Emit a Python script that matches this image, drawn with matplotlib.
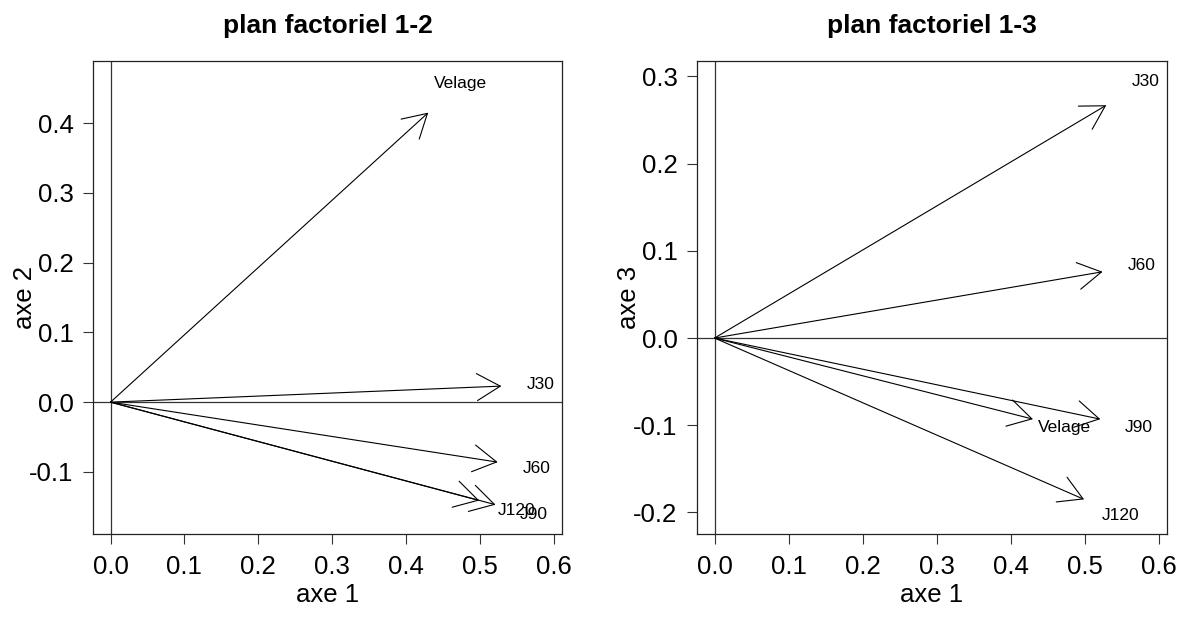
import matplotlib
matplotlib.use("Agg")
import matplotlib.pyplot as plt

plt.rcParams['font.family'] = ['Liberation Sans', 'DejaVu Sans']
plt.rcParams['axes.unicode_minus'] = False

# Data: variable coordinates on factorial axes
variables = ["Velage", "J30", "J60", "J90", "J120"]
axe1 = [0.430, 0.529, 0.524, 0.521, 0.499]
axe2 = [0.415, 0.023, -0.086, -0.147, -0.141]
axe3 = [-0.093, 0.267, 0.076, -0.093, -0.185]

xticks = [0.0, 0.1, 0.2, 0.3, 0.4, 0.5, 0.6]
yticks_12 = [-0.1, 0.0, 0.1, 0.2, 0.3, 0.4]
yticks_13 = [-0.2, -0.1, 0.0, 0.1, 0.2, 0.3]

W, H = 1185, 619
fig = plt.figure(figsize=(W / 100, H / 100), dpi=100)

def px_rect(l, r, t, b):
    return [l / W, (H - b) / H, (r - l) / W, (b - t) / H]

ax1 = fig.add_axes(px_rect(93, 562, 61, 534))
ax2 = fig.add_axes(px_rect(697, 1167, 61, 534))

def panel(ax, xs, ys, yticks, ylim, title, ylabel):
    ax.set_xlim(-0.0237, 0.611)
    ax.set_ylim(*ylim)
    ax.axhline(0, color="#333333", lw=0.9, zorder=1)
    ax.axvline(0, color="#333333", lw=0.9, zorder=1)
    for name, x, y in zip(variables, xs, ys):
        ax.annotate("", xy=(x, y), xytext=(0, 0),
                    arrowprops=dict(arrowstyle="->,head_length=1.68,head_width=0.97",
                                    mutation_scale=10, lw=0.8, color="black",
                                    shrinkA=0, shrinkB=0))
        ax.text(1.1 * x, 1.1 * y, name, ha="center", va="center", fontsize=12.5)
    ax.set_xticks(xticks)
    ax.set_xticklabels([f"{t:.1f}" for t in xticks])
    ax.set_yticks(yticks)
    ax.set_yticklabels([f"{t:.1f}" for t in yticks])
    ax.tick_params(axis="both", labelsize=18.5, length=7, width=0.8, color="#333333")
    ax.tick_params(axis="x", pad=8)
    ax.tick_params(axis="y", pad=7)
    for s in ax.spines.values():
        s.set_linewidth(0.9)
        s.set_color("#222222")
    ax.set_title(title, fontsize=19, fontweight="bold", pad=20)
    ax.set_xlabel("axe 1", fontsize=18.5)
    ax.xaxis.label.set_va("center")
    ax.xaxis.set_label_coords(0.5, -0.13)
    ax.set_ylabel(ylabel, fontsize=18.5)
    ax.yaxis.label.set_va("center")
    ax.yaxis.set_label_coords(-0.145, 0.5)

panel(ax1, axe1, axe2, yticks_12, (-0.189, 0.489), "plan factoriel 1-2", "axe 2")
panel(ax2, axe1, axe3, yticks_13, (-0.2247, 0.3177), "plan factoriel 1-3", "axe 3")

fig.savefig("out.png", dpi=100)
